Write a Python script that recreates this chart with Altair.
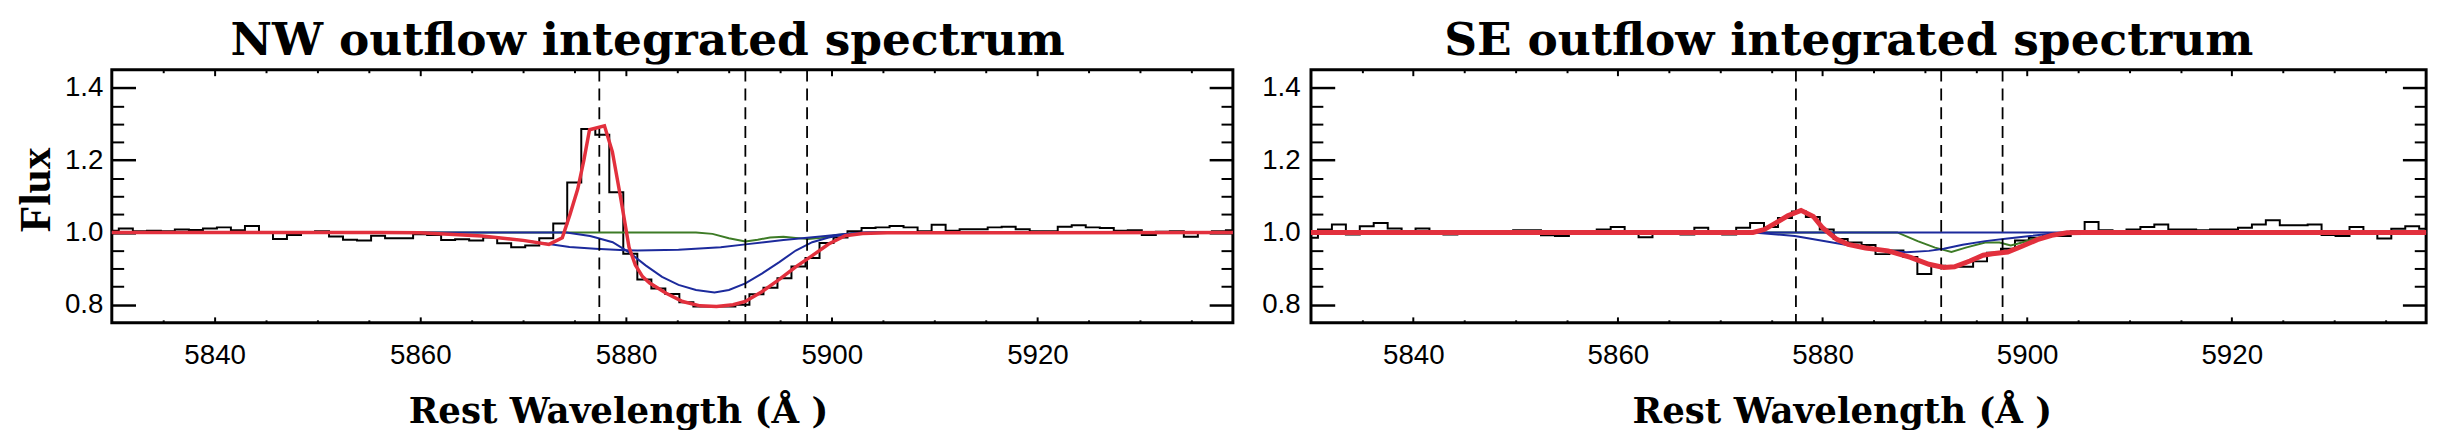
import altair as alt
import pandas as pd

# ---------------- data ----------------
WAVE = [5830.00, 5831.36, 5832.73, 5834.09, 5835.45, 5836.81, 5838.18, 5839.54, 5840.90, 5842.26,
        5843.63, 5844.99, 5846.35, 5847.71, 5849.08, 5850.44, 5851.80, 5853.16, 5854.53, 5855.89,
        5857.25, 5858.61, 5859.98, 5861.34, 5862.70, 5864.06, 5865.43, 5866.79, 5868.15, 5869.51,
        5870.88, 5872.24, 5873.60, 5874.96, 5876.33, 5877.69, 5879.05, 5880.41, 5881.78, 5883.14,
        5884.50, 5885.86, 5887.23, 5888.59, 5889.95, 5891.31, 5892.68, 5894.04, 5895.40, 5896.76,
        5898.13, 5899.49, 5900.85, 5902.21, 5903.58, 5904.94, 5906.30, 5907.66, 5909.03, 5910.39,
        5911.75, 5913.11, 5914.48, 5915.84, 5917.20, 5918.56, 5919.93, 5921.29, 5922.65, 5924.01,
        5925.38, 5926.74, 5928.10, 5929.46, 5930.83, 5932.19, 5933.55, 5934.91, 5936.28, 5937.64,
        5939.00]

NW_FLUX = [1.005, 1.011, 1.003, 1.005, 1.003, 1.008, 1.007, 1.011, 1.014, 1.006,
           1.018, 1.000, 0.982, 0.993, 1.000, 1.003, 0.989, 0.980, 0.978, 0.991,
           0.984, 0.984, 0.995, 0.993, 0.979, 0.981, 0.978, 0.986, 0.970, 0.959,
           0.964, 0.984, 1.025, 1.138, 1.286, 1.270, 1.111, 0.941, 0.870, 0.845,
           0.830, 0.807, 0.795, 0.795, 0.795, 0.800, 0.829, 0.847, 0.873, 0.906,
           0.929, 0.971, 0.986, 1.003, 1.012, 1.014, 1.018, 1.014, 1.003, 1.021,
           1.005, 1.009, 1.009, 1.014, 1.016, 1.009, 1.003, 1.003, 1.016, 1.020,
           1.014, 1.012, 1.005, 1.006, 0.993, 1.002, 1.003, 0.988, 1.000, 1.003,
           1.006]

SE_FLUX = [0.985, 1.008, 1.022, 0.994, 1.017, 1.026, 1.011, 1.001, 1.011, 1.000,
           0.994, 1.000, 1.000, 1.000, 1.000, 1.006, 1.006, 0.992, 0.990, 0.997,
           0.997, 1.008, 1.015, 1.000, 0.987, 1.000, 1.000, 0.994, 1.013, 0.999,
           0.994, 1.013, 1.026, 1.015, 1.040, 1.058, 1.043, 1.008, 0.982, 0.972,
           0.965, 0.940, 0.950, 0.932, 0.885, 0.908, 0.905, 0.905, 0.920, 0.944,
           0.955, 0.978, 0.985, 0.990, 0.990, 1.003, 1.029, 1.006, 1.003, 1.008,
           1.015, 1.022, 1.008, 1.008, 1.006, 1.008, 1.008, 1.013, 1.022, 1.034,
           1.020, 1.020, 1.022, 0.993, 0.990, 1.015, 1.000, 0.983, 1.010, 1.017,
           1.010]

# model components, NW panel
NW_RED_X = [5830.0, 5856.0, 5860.0, 5866.0, 5870.0, 5872.5, 5873.8, 5874.55, 5875.3, 5875.9,
            5876.45, 5877.9, 5878.67, 5879.48, 5880.29, 5880.9, 5881.6, 5882.3, 5883.9, 5885.5,
            5887.2, 5888.8, 5890.4, 5891.6, 5893.2, 5894.9, 5896.5, 5898.1, 5899.7, 5901.3,
            5903.0, 5905.4, 5939.0]
NW_RED_Y = [1.0, 1.0, 0.999, 0.99, 0.978, 0.967, 0.985, 1.05, 1.12, 1.2,
            1.284, 1.295, 1.223, 1.095, 0.959, 0.91, 0.878, 0.86, 0.832, 0.809,
            0.797, 0.795, 0.8, 0.809, 0.836, 0.87, 0.905, 0.936, 0.968, 0.991,
            0.997, 0.999, 1.0]
NW_BLUE1_X = [5830.0, 5856.0, 5860.0, 5866.0, 5870.0, 5872.5, 5874.5, 5877.0, 5879.9, 5881.1,
              5885.1, 5889.2, 5891.6, 5895.3, 5898.9, 5901.3, 5903.4, 5939.0]
NW_BLUE1_Y = [1.0, 1.0, 0.999, 0.99, 0.978, 0.968, 0.96, 0.955, 0.951, 0.95,
              0.952, 0.959, 0.967, 0.979, 0.989, 0.996, 1.0, 1.0]
NW_BLUE2_X = [5830.0, 5874.2, 5876.5, 5877.05, 5878.7, 5880.3, 5881.9, 5883.5, 5885.1, 5886.8,
              5888.6, 5890.0, 5891.6, 5893.2, 5894.9, 5896.5, 5898.1, 5899.7, 5901.3, 5903.0,
              5939.0]
NW_BLUE2_Y = [1.0, 1.0, 0.99, 0.986, 0.973, 0.945, 0.909, 0.877, 0.855, 0.841,
              0.834, 0.841, 0.859, 0.886, 0.918, 0.95, 0.973, 0.986, 0.995, 1.0,
              1.0]
NW_GREEN_X = [5830.0, 5886.8, 5888.4, 5890.0, 5891.6, 5892.8, 5894.0, 5895.3, 5896.5, 5897.7,
              5899.0, 5900.5, 5902.0, 5904.0, 5939.0]
NW_GREEN_Y = [1.0, 1.0, 0.996, 0.984, 0.975, 0.98, 0.986, 0.988, 0.985, 0.982,
              0.985, 0.993, 0.998, 1.0, 1.0]

# model components, SE panel
SE_RED_X = [5830.0, 5873.2, 5874.3, 5875.4, 5876.6, 5877.9, 5879.1, 5880.0, 5881.4, 5882.5,
            5884.2, 5886.4, 5888.6, 5890.4, 5891.85, 5892.9, 5894.4, 5895.7, 5896.6, 5898.1,
            5899.5, 5901.0, 5902.4, 5903.9, 5905.4, 5939.0]
SE_RED_Y = [1.0, 1.0, 1.008, 1.026, 1.046, 1.061, 1.044, 1.013, 0.981, 0.967,
            0.957, 0.949, 0.931, 0.912, 0.903, 0.905, 0.921, 0.937, 0.941, 0.946,
            0.962, 0.98, 0.992, 0.999, 1.0, 1.0]
SE_BLUE1_X = [5830.0, 5873.2, 5877.3, 5881.4, 5883.5, 5885.6, 5888.2, 5890.4, 5891.85, 5893.7,
              5895.9, 5898.1, 5900.3, 5902.5, 5903.9, 5939.0]
SE_BLUE1_Y = [1.0, 1.0, 0.99, 0.97, 0.96, 0.951, 0.945, 0.949, 0.955, 0.966,
              0.976, 0.983, 0.99, 0.997, 1.0, 1.0]
SE_BLUE2_X = [5830.0, 5939.0]
SE_BLUE2_Y = [1.0, 1.0]
SE_GREEN_X = [5830.0, 5887.3, 5889.3, 5891.0, 5892.6, 5894.0, 5895.9, 5897.3, 5898.4, 5899.5,
              5901.0, 5902.4, 5904.0, 5939.0]
SE_GREEN_Y = [1.0, 1.0, 0.976, 0.958, 0.946, 0.958, 0.972, 0.972, 0.964, 0.972,
              0.985, 0.994, 1.0, 1.0]

LINE_WAVES = [5877.4, 5891.6, 5897.6]

X_DOMAIN = [5830, 5939]
Y_DOMAIN = [0.75, 1.45]
X_MAJOR = [5840, 5860, 5880, 5900, 5920]
X_MINOR = [5835, 5845, 5850, 5855, 5865, 5870, 5875, 5885, 5890, 5895,
           5905, 5910, 5915, 5925, 5930, 5935]
Y_MAJOR = [0.8, 1.0, 1.2, 1.4]
Y_MINOR = [0.85, 0.9, 0.95, 1.05, 1.1, 1.15, 1.25, 1.3, 1.35]

TITLES = ["NW outflow integrated spectrum", "SE outflow integrated spectrum"]
X_TITLE = "Rest Wavelength (Å )"
Y_TITLE = "Flux"

RED = "#e2303d"
BLUE = "#1c2a9c"
GREEN = "#3d7b26"

# ---------------- chart ----------------
XS = alt.Scale(domain=X_DOMAIN, nice=False, zero=False)
YS = alt.Scale(domain=Y_DOMAIN, nice=False, zero=False)
HEIGHT = 256


def tick_axis(orient, size, values, width):
    return alt.Axis(orient=orient, values=values, ticks=True, tickSize=size, offset=-size,
                    tickWidth=width, tickColor="black", labels=False, domain=False,
                    grid=False, title=None)


def curve_layer(xs, ys, color, width, xaxis, yaxis):
    df = pd.DataFrame({"wave": xs, "flux": ys})
    return alt.Chart(df).mark_line(color=color, strokeWidth=width).encode(
        x=alt.X("wave:Q", scale=XS, axis=xaxis),
        y=alt.Y("flux:Q", scale=YS, axis=yaxis),
    )


def panel(flux, curves, title, ytitle, width, title_dx, xtitle_dx, ylab_pad, red_w):
    hist_df = pd.DataFrame({"wave": WAVE, "flux": flux})
    x_lab = alt.Axis(orient="bottom", values=X_MAJOR, format="d", ticks=False, tickSize=0,
                     domain=False, grid=False, labelFont="Liberation Sans", labelFontSize=28,
                     labelColor="black", labelPadding=19, labelFlush=False,
                     title=X_TITLE, titleFont="DejaVu Serif", titleFontSize=36,
                     titleFontWeight="bold", titleColor="black", titlePadding=26,
                     titleX=width / 2 + xtitle_dx)
    y_kw = dict(orient="left", values=Y_MAJOR, format=".1f", ticks=False, tickSize=0,
                domain=False, grid=False, labelFont="Liberation Sans", labelFontSize=28,
                labelColor="black", labelPadding=ylab_pad)
    if ytitle:
        y_lab = alt.Axis(title=ytitle, titleFont="Liberation Serif", titleFontSize=44,
                         titleFontWeight="bold", titleColor="black", titlePadding=6,
                         titleY=HEIGHT / 2 - 7, **y_kw)
    else:
        y_lab = alt.Axis(title=None, **y_kw)

    hist = alt.Chart(hist_df).mark_line(interpolate="step", color="black", strokeWidth=2).encode(
        x=alt.X("wave:Q", scale=XS, axis=x_lab),
        y=alt.Y("flux:Q", scale=YS, axis=y_lab),
    )
    (gx, gy), (b1x, b1y), (b2x, b2y), (rx, ry) = curves
    green = curve_layer(gx, gy, GREEN, 2, tick_axis("bottom", 6, X_MAJOR, 2),
                        tick_axis("left", 24, Y_MAJOR, 2.5))
    blue1 = curve_layer(b1x, b1y, BLUE, 2, tick_axis("bottom", 3, X_MINOR, 2),
                        tick_axis("left", 12, Y_MINOR, 2))
    blue2 = curve_layer(b2x, b2y, BLUE, 2, tick_axis("top", 6, X_MAJOR, 2),
                        tick_axis("right", 24, Y_MAJOR, 2.5))
    rules = alt.Chart(pd.DataFrame({"wave": LINE_WAVES})).mark_rule(
        color="black", strokeWidth=1.8, strokeDash=[12, 7]).encode(
        x=alt.X("wave:Q", scale=XS, axis=None))
    red = curve_layer(rx, ry, RED, red_w, tick_axis("top", 3, X_MINOR, 2),
                      tick_axis("right", 12, Y_MINOR, 2))
    return alt.layer(hist, green, blue1, blue2, rules, red).resolve_axis(
        x="independent", y="independent").properties(
        width=width, height=HEIGHT,
        title=alt.TitleParams(text=title, font="DejaVu Serif", fontSize=46,
                              fontWeight="bold", color="black", anchor="middle",
                              frame="group", baseline="alphabetic", offset=-32, dx=title_dx))


left = panel(NW_FLUX,
             [(NW_GREEN_X, NW_GREEN_Y), (NW_BLUE1_X, NW_BLUE1_Y),
              (NW_BLUE2_X, NW_BLUE2_Y), (NW_RED_X, NW_RED_Y)],
             TITLES[0], Y_TITLE, 1134, -25, -55, 9, 3.5)
right = panel(SE_FLUX,
              [(SE_GREEN_X, SE_GREEN_Y), (SE_BLUE1_X, SE_BLUE1_Y),
               (SE_BLUE2_X, SE_BLUE2_Y), (SE_RED_X, SE_RED_Y)],
              TITLES[1], None, 1128, -20, -27, 11, 5)

chart = alt.hconcat(left, right, spacing=18).properties(
    padding={"left": 5, "top": 6, "right": 0, "bottom": 0},
    background="white").configure_view(stroke="black", strokeWidth=3)

chart.save("out.html", embed_options={"renderer": "svg", "actions": False})
